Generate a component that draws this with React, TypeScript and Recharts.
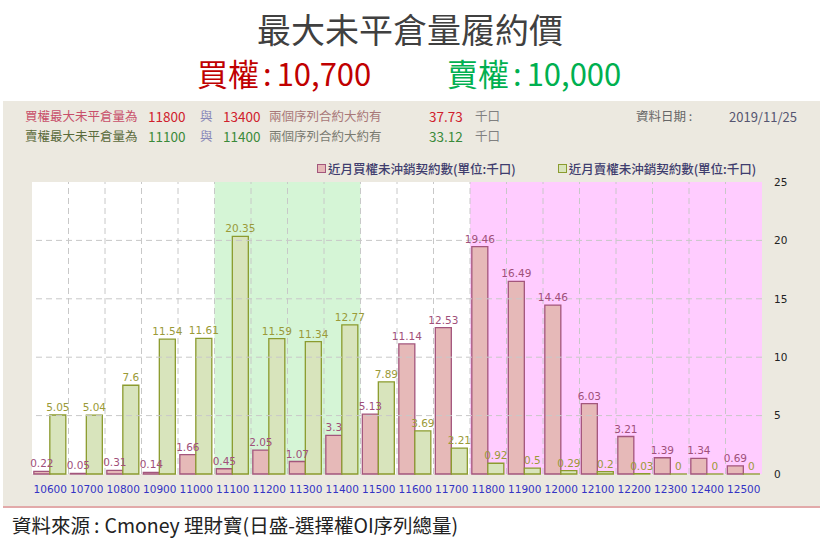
import React from 'react';
import { BarChart, Bar, XAxis, YAxis, CartesianGrid, ReferenceArea, ReferenceLine, LabelList, Legend } from 'recharts';

// strikes (x axis)
const strikes = [
  '10600', '10700', '10800', '10900', '11000', '11100', '11200', '11300', '11400', '11500',
  '11600', '11700', '11800', '11900', '12000', '12100', '12200', '12300', '12400', '12500',
];
// near-month call open interest (thousand lots)
const callOI = [0.22, 0.05, 0.31, 0.14, 1.66, 0.45, 2.05, 1.07, 3.3, 5.13, 11.14, 12.53, 19.46, 16.49, 14.46, 6.03, 3.21, 1.39, 1.34, 0.69];
// near-month put open interest (thousand lots)
const putOI = [5.05, 5.04, 7.6, 11.54, 11.61, 20.35, 11.59, 11.34, 12.77, 7.89, 3.69, 2.21, 0.92, 0.5, 0.29, 0.2, 0.03, 0, 0, 0];
const yTicks = [0, 5, 10, 15, 20, 25];
const putBand = ['11100', '11400'];
const callBand = ['11800', '12500'];

const callName = '近月買權未沖銷契約數(單位:千口)';
const putName = '近月賣權未沖銷契約數(單位:千口)';

const cjk = '"Noto Sans CJK TC", "Noto Sans", sans-serif';
const plain = '"DejaVu Sans", Verdana, sans-serif';

const data = strikes.map((s, i) => ({ strike: s, call: callOI[i], put: putOI[i] }));

const abs = (left: number, top: number, extra: React.CSSProperties = {}): React.CSSProperties => ({
  position: 'absolute',
  left,
  top,
  whiteSpace: 'nowrap',
  lineHeight: 1,
  ...extra,
});

const InfoRow = ({ top, label, a, b, total, labelColor, numColor, midColor }: any) => (
  <>
    <span style={abs(25, top, { color: labelColor, fontSize: 12.5 })}>{label}</span>
    <span style={abs(148, top, { color: numColor, fontSize: 13.5 })}>{a}</span>
    <span style={abs(200, top, { color: '#8a8ab8', fontSize: 12.5 })}>與</span>
    <span style={abs(223, top, { color: numColor, fontSize: 13.5 })}>{b}</span>
    <span style={abs(269, top, { color: midColor, fontSize: 12.5 })}>兩個序列合約大約有</span>
    <span style={abs(429, top, { color: numColor, fontSize: 13.5 })}>{total}</span>
    <span style={abs(475, top, { color: '#808080', fontSize: 12.5 })}>千口</span>
  </>
);

const renderLegend = (props: any) => {
  const items = props.payload || [];
  return (
    <div style={{ display: 'flex', fontFamily: cjk, fontSize: 12.5, color: '#3f3d6e', fontWeight: 500 }}>
      {items.map((it: any, i: number) => (
        <div key={i} style={{ display: 'flex', alignItems: 'center', marginRight: i === 0 ? 42 : 0 }}>
          <span
            style={{
              display: 'inline-block',
              width: 7,
              height: 7,
              background: it.payload.fill,
              border: `1.5px solid ${it.payload.stroke}`,
              marginRight: 2,
            }}
          />
          <span>{it.value}</span>
        </div>
      ))}
    </div>
  );
};

// keep zero-valued bars in the layout so their "0" labels still show
const keepZero = (v: number) => (v === 0 ? 0.01 : 0);

const Colon = () => <span style={{ margin: '0 5px 0 4px' }}>:</span>;

const App: React.FC = () => {
  return (
    <div style={{ position: 'absolute', left: 0, top: 0, width: 820, height: 548, background: '#fff', fontFamily: cjk, overflow: 'hidden' }}>
      <div style={abs(0, 12, { width: 820, textAlign: 'center', fontSize: 34, color: '#404040' })}>最大未平倉量履約價</div>
      <div style={abs(197, 57, { fontSize: 31, color: '#c00000' })}>買權<Colon />10,700</div>
      <div style={abs(447, 57, { fontSize: 31, color: '#00b050' })}>賣權<Colon />10,000</div>

      {/* grey panel */}
      <div style={{ position: 'absolute', left: 3, top: 101, width: 817, height: 405, background: '#ece9e0', borderBottom: '2px solid #e2a9a9' }} />

      <InfoRow top={110} label="買權最大未平倉量為" a="11800" b="13400" total="37.73" labelColor="#c8506a" numColor="#d0202c" midColor="#a87878" />
      <InfoRow top={130} label="賣權最大未平倉量為" a="11100" b="11400" total="33.12" labelColor="#5a6a3a" numColor="#3a8a3a" midColor="#7a7a70" />
      <span style={abs(636, 110, { color: '#666', fontSize: 12.5 })}>資料日期 :</span>
      <span style={abs(729, 110, { color: '#555570', fontSize: 13 })}>2019/11/25</span>

      <div style={{ position: 'absolute', left: 0, top: 0 }}>
        <BarChart
          width={820}
          height={548}
          data={data}
          margin={{ top: 182, left: 32, right: 18, bottom: 44 }}
          barCategoryGap="5%"
          barGap={0}
        >
          <CartesianGrid horizontal={false} vertical={false} fill="#fff" fillOpacity={1} />
          <ReferenceArea x1={putBand[0]} x2={putBand[1]} fill="#d5f5d6" fillOpacity={1} stroke="none" />
          <ReferenceArea x1={callBand[0]} x2={callBand[1]} fill="#ffccff" fillOpacity={1} stroke="none" />
          {yTicks.slice(1, -1).map((t) => (
            <ReferenceLine key={'y' + t} y={t} stroke="#c8c8c8" strokeDasharray="6 4" />
          ))}
          {strikes.slice(1).map((s) => (
            <ReferenceLine key={'x' + s} x={s} position="start" stroke="#c8c8c8" strokeDasharray="6 4" />
          ))}
          <ReferenceArea fill="none" stroke="#bdbdbd" strokeWidth={1.2} />
          <XAxis
            dataKey="strike"
            axisLine={false}
            tickLine={false}
            height={30}
            interval={0}
            tickMargin={6}
            tick={{ fill: '#3434c4', fontSize: 10.5, fontFamily: plain }}
          />
          <YAxis
            orientation="right"
            domain={[0, 25]}
            ticks={yTicks}
            width={40}
            axisLine={false}
            tickLine={false}
            tickMargin={6}
            tick={{ fill: '#222', fontSize: 10.5, fontFamily: plain }}
          />
          <Legend
            layout="horizontal"
            verticalAlign="middle"
            align="center"
            content={renderLegend}
            wrapperStyle={{ position: 'absolute', left: 317, top: 159, width: 470, height: 18 }}
          />
          <Bar dataKey="call" name={callName} fill="#e6b9b8" stroke="#a3567c" strokeWidth={1.3} minPointSize={keepZero} isAnimationActive={false}>
            <LabelList dataKey="call" position="top" offset={4} fill="#a0507a" fontSize={10.5} fontFamily={plain} />
          </Bar>
          <Bar dataKey="put" name={putName} fill="#d8e4bc" stroke="#8b9b2e" strokeWidth={1.3} minPointSize={keepZero} isAnimationActive={false}>
            <LabelList dataKey="put" position="top" offset={4} fill="#9a9a38" fontSize={10.5} fontFamily={plain} />
          </Bar>
        </BarChart>
      </div>

      <div style={abs(12, 515, { fontSize: 19.5, color: '#222' })}>資料來源<Colon />Cmoney 理財寶(日盛-選擇權OI序列總量)</div>
    </div>
  );
};

export default App;
